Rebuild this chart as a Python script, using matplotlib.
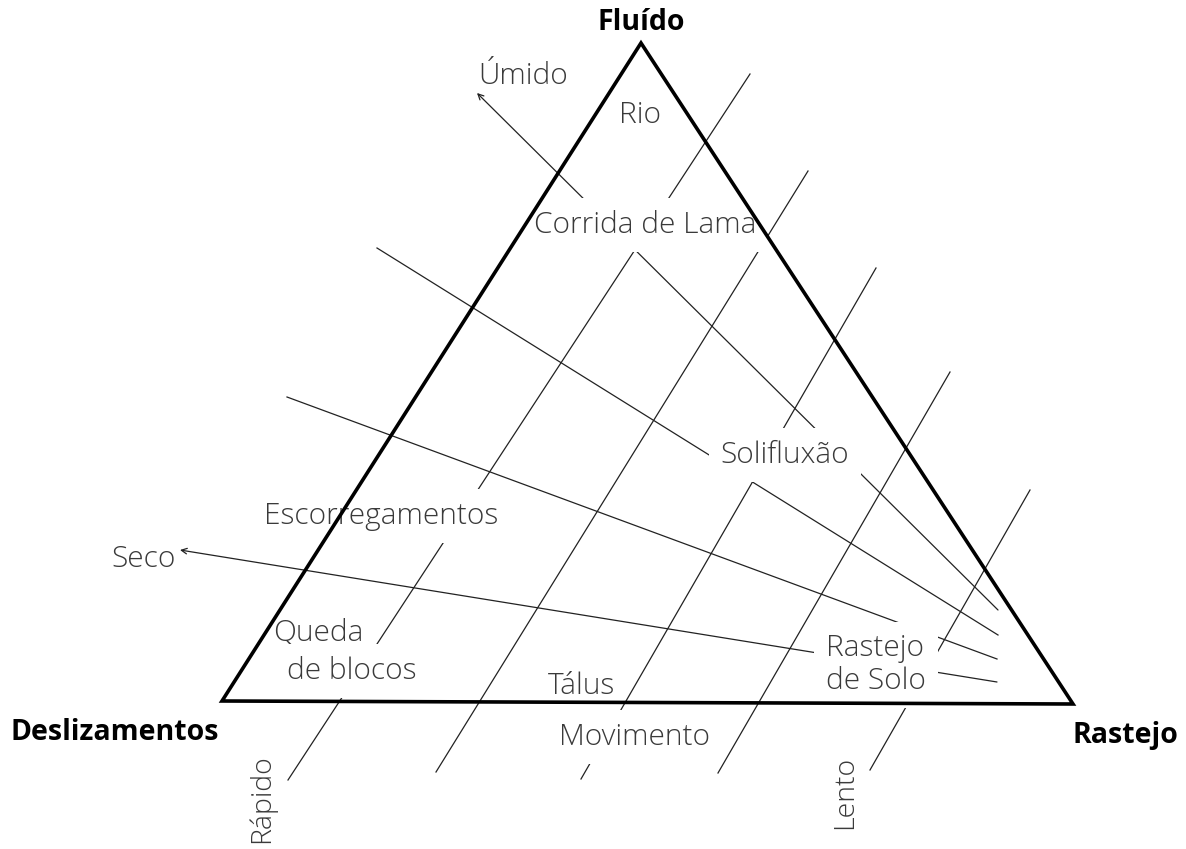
import matplotlib.pyplot as plt

# triangle corners (Fluído, Deslizamentos, Rastejo), in picture pixels
tri_x = [641, 222, 1073]
tri_y = [43, 701, 704]

# speed lines (rápido -> lento), top end and bottom end
speed_top = [(750, 74), (808, 171), (876, 268), (950, 372), (1030, 490)]
speed_bottom = [(288, 780), (436, 772), (581, 779), (718, 773), (870, 770)]

# moisture lines (seco <-> úmido), right end and left end
moist_right = [(998, 610), (998, 635), (997, 659), (997, 682)]
moist_left = [(477, 93), (377, 248), (287, 397), (180, 550)]
moist_arrow = [True, False, False, True]

# texts inside / around the diagram
labels = ['Úmido', 'Rio', 'Corrida de Lama', 'Solifluxão', 'Escorregamentos',
          'Seco', 'Queda', 'de blocos', 'Tálus', 'Movimento',
          'Rastejo\nde Solo']
label_x = [523, 640, 645, 785, 381, 144, 318, 352, 581, 635, 826]
label_y = [76, 115, 225, 455, 516, 559, 633, 671, 686, 737, 665]
label_mask = [False, False, True, True, True, False, False, True, False, True, True]

corners = ['Fluído', 'Deslizamentos', 'Rastejo']
corner_x = [641, 115, 1125]
corner_y = [22, 732, 735]

side_labels = ['Rápido', 'Lento']
side_x = [262, 845]
side_y = [799, 792]

plt.rcParams['font.family'] = ['Open Sans', 'DejaVu Sans']

fig = plt.figure(figsize=(11.86, 8.49), dpi=100)
ax = fig.add_axes([0, 0, 1, 1])
ax.set_xlim(0, 1186)
ax.set_ylim(849, 0)
ax.axis('off')

for (x0, y0), (x1, y1) in zip(speed_top, speed_bottom):
    ax.plot([x0, x1], [y0, y1], color='#222222', lw=0.9, zorder=1)

for (x0, y0), (x1, y1), arr in zip(moist_right, moist_left, moist_arrow):
    if arr:
        ax.annotate('', xy=(x1, y1), xytext=(x0, y0), zorder=1,
                    arrowprops=dict(arrowstyle='->', color='#222222', lw=0.9,
                                    shrinkA=0, shrinkB=0, mutation_scale=10))
    else:
        ax.plot([x0, x1], [y0, y1], color='#222222', lw=0.9, zorder=1)

for txt, x, y, m in zip(labels, label_x, label_y, label_mask):
    ha = 'left' if txt.startswith('Rastejo') else 'center'
    box = dict(boxstyle='square,pad=0.4', fc='white', ec='none') if m else None
    ax.text(x, y, txt, ha=ha, va='center', fontsize=21.5, fontweight='light',
            color='#3a3a3a', bbox=box, zorder=3, linespacing=1.15)

for txt, x, y in zip(side_labels, side_x, side_y):
    ax.text(x, y, txt, ha='center', va='center', rotation=90, fontsize=20.5,
            fontweight='light', color='#3a3a3a', zorder=3)

ax.fill(tri_x, tri_y, fill=False, ec='black', lw=2.6, joinstyle='miter', zorder=4)

for txt, x, y in zip(corners, corner_x, corner_y):
    ax.text(x, y, txt, ha='center', va='center', fontsize=20.5,
            fontweight='bold', color='black', zorder=5)

fig.savefig('out.png', dpi=100, facecolor='white')
